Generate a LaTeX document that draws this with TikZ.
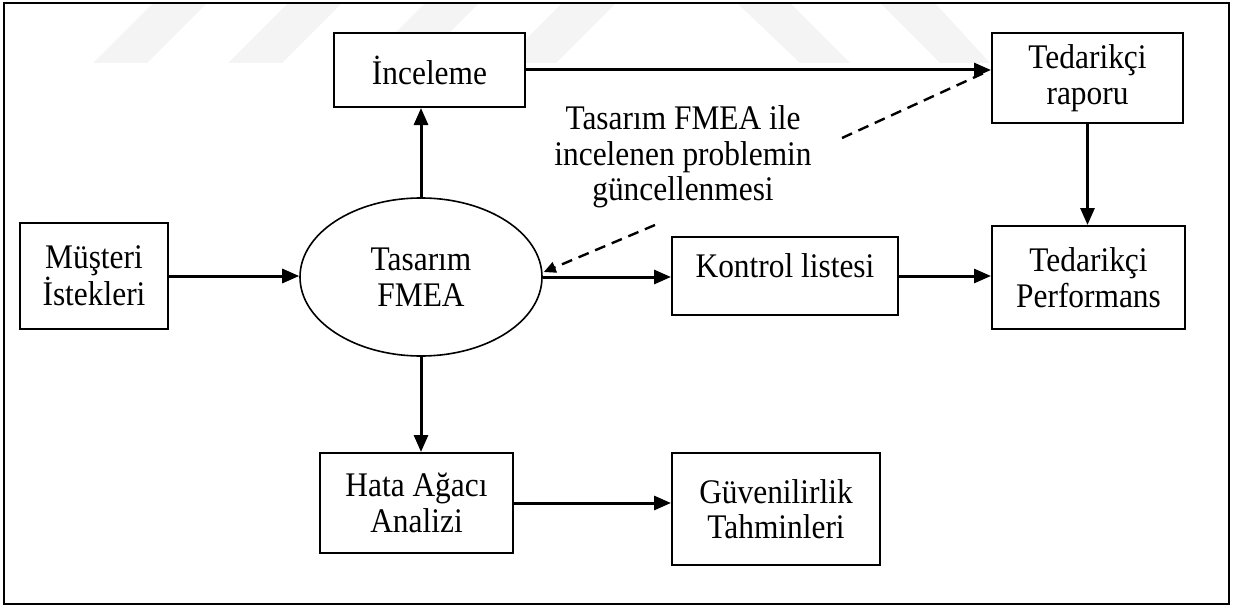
\documentclass[tikz,border=0pt]{standalone}
\usepackage{fontspec}
\setmainfont{Liberation Serif}[FakeStretch=0.91]
\usetikzlibrary{arrows.meta,shapes.geometric,calc}

\begin{document}
\begin{tikzpicture}[x=1pt,y=-1pt,
  every node/.style={font=\fontsize{34.5}{35.5}\selectfont},
  blok/.style={draw,line width=2pt,fill=white,align=center,inner sep=0pt},
  ok/.style={line width=3pt,-{Triangle[length=17pt,width=14pt]}},
  kesik/.style={line width=2.4pt,dash pattern=on 11pt off 7pt},
  filigran/.style={fill=gray!9}]

\useasboundingbox (0,0) rectangle (1238,607);

% faint background stripes along the top edge
\foreach \xa in {93,228,365,502}
  \fill[filigran] (\xa,63) -- (\xa+54,63) -- (\xa+114,3) -- (\xa+60,3) -- cycle;
\fill[filigran] (737,3) -- (790,3) -- (850,63) -- (800,63) -- cycle;
\fill[filigran] (880,3) -- (935,3) -- (990,63) -- (940,63) -- cycle;

% outer frame
\draw[line width=2.2pt] (4,3) rectangle (1229,604);

% boxes
\node[blok,minimum width=191pt,minimum height=74pt] (inc) at (429.5,70) {İnceleme};
\node[blok,minimum width=191pt,minimum height=90pt] (rap) at (1087.5,78) {Tedarikçi\\raporu};
\node[blok,minimum width=148pt,minimum height=106pt] (mus) at (94,276) {Müşteri\\İstekleri};
\node[ellipse,draw,line width=1.6pt,fill=white,minimum width=242pt,minimum height=158pt,
      inner sep=0pt,align=center] (ell) at (421,277) {Tasarım\\FMEA};
\node[blok,minimum width=226pt,minimum height=78pt,text height=3pt,text depth=0pt] (kon) at (785,276) {Kontrol listesi};
\node[blok,minimum width=193pt,minimum height=103pt] (perf) at (1088.5,277.5) {Tedarikçi\\Performans};
\node[blok,minimum width=193pt,minimum height=100pt] (hata) at (416.5,503) {Hata Ağacı\\Analizi};
\node[blok,minimum width=208pt,minimum height=112pt] (guv) at (776,509) {Güvenilirlik\\Tahminleri};
\node[align=center] (not) at (683,157) {Tasarım FMEA ile\\incelenen problemin\\güncellenmesi};

% connectors
\draw[ok] (mus.east) -- (mus.east -| ell.west);
\draw[ok] (ell.north) -- (ell.north |- inc.south);
\draw[ok] (ell.south) -- (ell.south |- hata.north);
\draw[ok] (inc.east) -- (inc.east -| rap.west);
\draw[ok] (ell.east) -- (ell.east -| kon.west);
\draw[ok] (kon.east) -- (kon.east -| perf.west);
\draw[ok] (rap.south) -- (rap.south |- perf.north);
\draw[ok] (hata.east) -- (hata.east -| guv.west);

% dashed feedback line, broken by the note
\coordinate (d1) at (842,138);
\coordinate (d2) at (655,225);
\draw[kesik] (d1) -- ($(rap.west)+(-5,-6)$);
\draw[kesik,-{Triangle[length=12pt,width=11pt]}] (d2) -- ($(ell.east)+(1,-5)$);

\end{tikzpicture}
\end{document}
